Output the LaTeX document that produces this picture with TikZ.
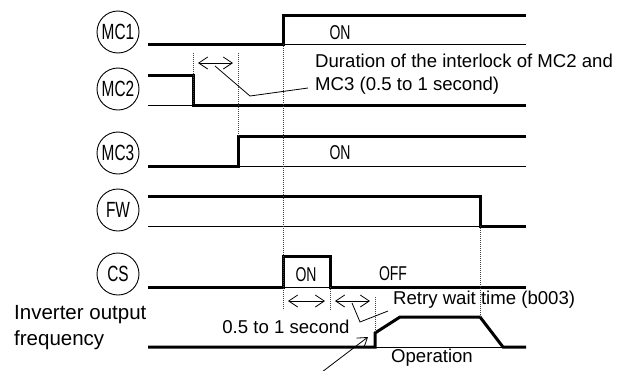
\documentclass[tikz,border=0pt]{standalone}
\usepackage{fontspec}
\setmainfont{Liberation Sans}
\newfontfamily\narrowfont[FakeStretch=0.7]{Liberation Sans}
\usetikzlibrary{arrows.meta}

\begin{document}
\begin{tikzpicture}[x=1pt, y=-1pt,
  tag/.style={draw, circle, minimum size=42pt, inner sep=0pt, line width=0.9pt,
              font=\narrowfont\fontsize{22}{22}\selectfont},
  level/.style={line width=3pt},
  base/.style={line width=0.9pt},
  guide/.style={dash pattern=on 0.8pt off 1.2pt, line width=0.7pt, black!75},
  state/.style={font=\narrowfont\fontsize{20}{20}\selectfont},
  note/.style={font=\fontsize{18.6}{23}\selectfont, align=left, inner sep=0pt},
  span/.style={{Straight Barb[length=9pt,width=12pt]}-{Straight Barb[length=9pt,width=12pt]}, line width=0.8pt},
  lead/.style={line width=0.8pt},
]
\useasboundingbox (0,0) rectangle (627,370);

% signal names
\node[tag] (mc1) at (118,32)  {MC1};
\node[tag] (mc2) at (118,89)  {MC2};
\node[tag] (mc3) at (118,153) {MC3};
\node[tag] (fw)  at (118,210) {FW};
\node[tag] (cs)  at (118,274) {CS};
\node[note, anchor=west, font=\fontsize{20.5}{26}\selectfont] (fout) at (14,328) {Inverter output\\frequency};

% waveforms
\draw[base]  (283,44) -- (526,44);
\draw[level] (148,44) -- (283,44) -- (283,15) -- (526,15);
\draw[base]  (148,105) -- (193,105);
\draw[level] (148,75) -- (193,75) -- (193,105) -- (526,105);
\draw[base]  (238,166) -- (526,166);
\draw[level] (148,166) -- (238,166) -- (238,136) -- (526,136);
\draw[base]  (148,226) -- (480,226);
\draw[level] (148,196) -- (480,196) -- (480,226) -- (526,226);
\draw[base]  (283,287) -- (330,287);
\draw[level] (148,287) -- (283,287) -- (283,256) -- (330,256) -- (330,287) -- (526,287);
\draw[base]  (375,347) -- (503,347);
\draw[level] (148,347) -- (375,347) -- (375,333) -- (400,317) -- (480,317) -- (503,347) -- (526,347);

% timing guides
\draw[guide] (193,53) -- (193,105);
\draw[guide] (238,53) -- (238,136);
\draw[guide] (283,44) -- (283,310);
\draw[guide] (480,226) -- (480,317);
\draw[guide] (330,287) -- (330,310);
\draw[guide] (375,297) -- (375,333);

% states
\node[state] (on1) at (340,33)  {ON};
\node[state] (on3) at (340,153) {ON};
\node[state] (oncs) at (306,275) {ON};
\node[state] (offcs) at (393,274) {OFF};

% interlock
\coordinate (il1) at (198,63);
\coordinate (il2) at (233,63);
\coordinate (ilmid) at (215,66);
\coordinate (ilbend) at (250,96);
\coordinate (ilend) at (308,88);
\draw[span] (il1) -- (il2);
\draw[lead] (ilmid) -- (ilbend) -- (ilend);
\node[note, anchor=west] (interlock) at (315,74)
  {Duration of the interlock of MC2 and\\MC3 (0.5 to 1 second)};

% CS timing
\coordinate (cs1) at (288,301);
\coordinate (cs2) at (325,301);
\coordinate (rt1) at (335,301);
\coordinate (rt2) at (370,301);
\coordinate (rtmid) at (352,303);
\coordinate (rtbend) at (360,322);
\coordinate (rtend) at (388,311);
\draw[span] (cs1) -- (cs2);
\draw[span] (rt1) -- (rt2);
\draw[lead] (rtmid) -- (rtbend) -- (rtend);
\node[note] (halfsec) at (286,327) {0.5 to 1 second};
\node[note, anchor=west] (retry) at (393,300) {Retry wait time (b003)};
\node[note] (oper) at (432,358) {Operation};

% restart
\coordinate (restart) at (368,337);
\coordinate (rtail) at (322,372);
\draw[lead, -{Straight Barb[length=9pt,width=12pt]}] (rtail) -- (restart);
\end{tikzpicture}
\end{document}
